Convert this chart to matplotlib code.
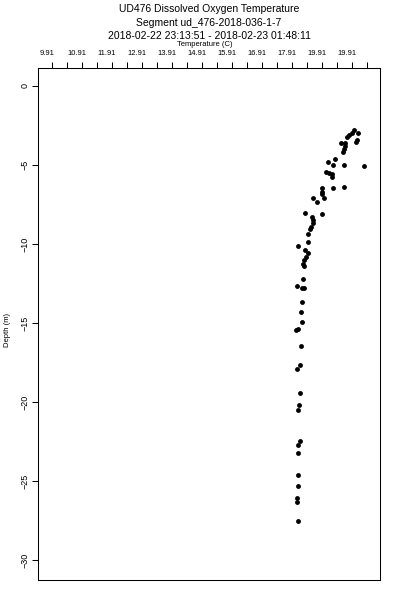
import matplotlib
matplotlib.use('Agg')
import matplotlib.pyplot as plt
import numpy as np

# temperatura (C) y profundidad (m)
temperatura = [20.15, 20.07, 19.98, 19.90, 20.29, 20.23, 20.20, 19.84, 19.71, 19.84,
               19.82, 19.79, 19.51, 19.29, 19.45, 19.82, 20.49, 19.20, 19.31, 19.40,
               19.40, 19.45, 19.82, 19.07, 19.07, 19.09, 18.77, 19.15, 18.90, 18.51,
               19.07, 18.73, 18.79, 18.79, 18.71, 18.68, 18.60, 18.62, 18.27, 18.51,
               18.62, 18.53, 18.49, 18.45, 18.49, 18.45, 18.23, 18.40, 18.48, 18.40,
               18.38, 18.40, 18.29, 18.22, 18.37, 18.34, 18.25, 18.34, 18.31, 18.27,
               18.34, 18.27, 18.29, 18.29, 18.27, 18.25, 18.25, 18.27]
profundidad = [-2.78, -2.99, -3.10, -3.21, -2.96, -3.42, -3.53, -3.59, -3.63, -3.80,
               -4.01, -4.16, -4.64, -4.79, -5.00, -5.00, -5.06, -5.42, -5.49, -5.57,
               -5.74, -6.47, -6.37, -6.47, -6.69, -6.84, -7.11, -7.11, -7.36, -8.06,
               -8.10, -8.27, -8.48, -8.69, -8.91, -9.07, -9.37, -9.85, -10.11, -10.38,
               -10.59, -10.80, -11.01, -11.28, -11.37, -12.23, -12.66, -12.80, -12.80, -13.65,
               -14.32, -14.92, -15.40, -15.42, -16.46, -17.66, -17.91, -19.45, -20.19, -20.51,
               -22.45, -22.72, -23.25, -24.62, -25.32, -26.10, -26.31, -27.51]

etiquetas_x = ['9.91', '10.91', '11.91', '12.91', '13.91', '14.91', '15.91',
               '16.91', '17.91', '19.91', '19.91']
posiciones_x = [9.91, 10.91, 11.91, 12.91, 13.91, 14.91, 15.91, 16.91, 17.91, 18.91, 19.91]
marcas_x = np.arange(10.08, 20.6, 0.5)
marcas_y = [0, -5, -10, -15, -20, -25, -30]

plt.rcParams['font.family'] = ['Liberation Sans', 'DejaVu Sans']

fig = plt.figure(figsize=(4, 6), dpi=100)
ax = fig.add_axes([0.095, 0.0333, 0.855, 0.8534])

ax.plot(temperatura, profundidad, 'o', color='black', markersize=3.5, markeredgewidth=0)

ax.set_xlim(9.61, 21.01)
ax.set_ylim(-31.27, 1.14)

# eje x arriba: etiquetas y marcas no coinciden
ax.xaxis.tick_top()
ax.set_xticks(posiciones_x, etiquetas_x)
ax.set_xticks(marcas_x, minor=True)
ax.tick_params(axis='x', which='major', length=0, pad=8, labelsize=5.5)
ax.tick_params(axis='x', which='minor', length=4.3, width=0.75, direction='out', top=True, bottom=False)

ax.set_yticks(marcas_y)
ax.tick_params(axis='y', length=4.3, width=0.75, pad=2, labelsize=6.5, labelrotation=90)
for t in ax.get_yticklabels():
    t.set_va('center')

for s in ax.spines.values():
    s.set_linewidth(0.75)

fig.text(0.5225, 0.985, 'UD476 Dissolved Oxygen Temperature', ha='center', va='center', fontsize=7.5)
fig.text(0.5225, 0.962, 'Segment ud_476-2018-036-1-7', ha='center', va='center', fontsize=7.5)
fig.text(0.5225, 0.940, '2018-02-22 23:13:51 - 2018-02-23 01:48:11', ha='center', va='center', fontsize=7.5)
fig.text(0.511, 0.9255, 'Temperature (C)', ha='center', va='center', fontsize=5.5)
fig.text(0.018, 0.45, 'Depth (m)', ha='center', va='center', rotation=90, fontsize=5.5)

plt.savefig('out.png', dpi=100)
